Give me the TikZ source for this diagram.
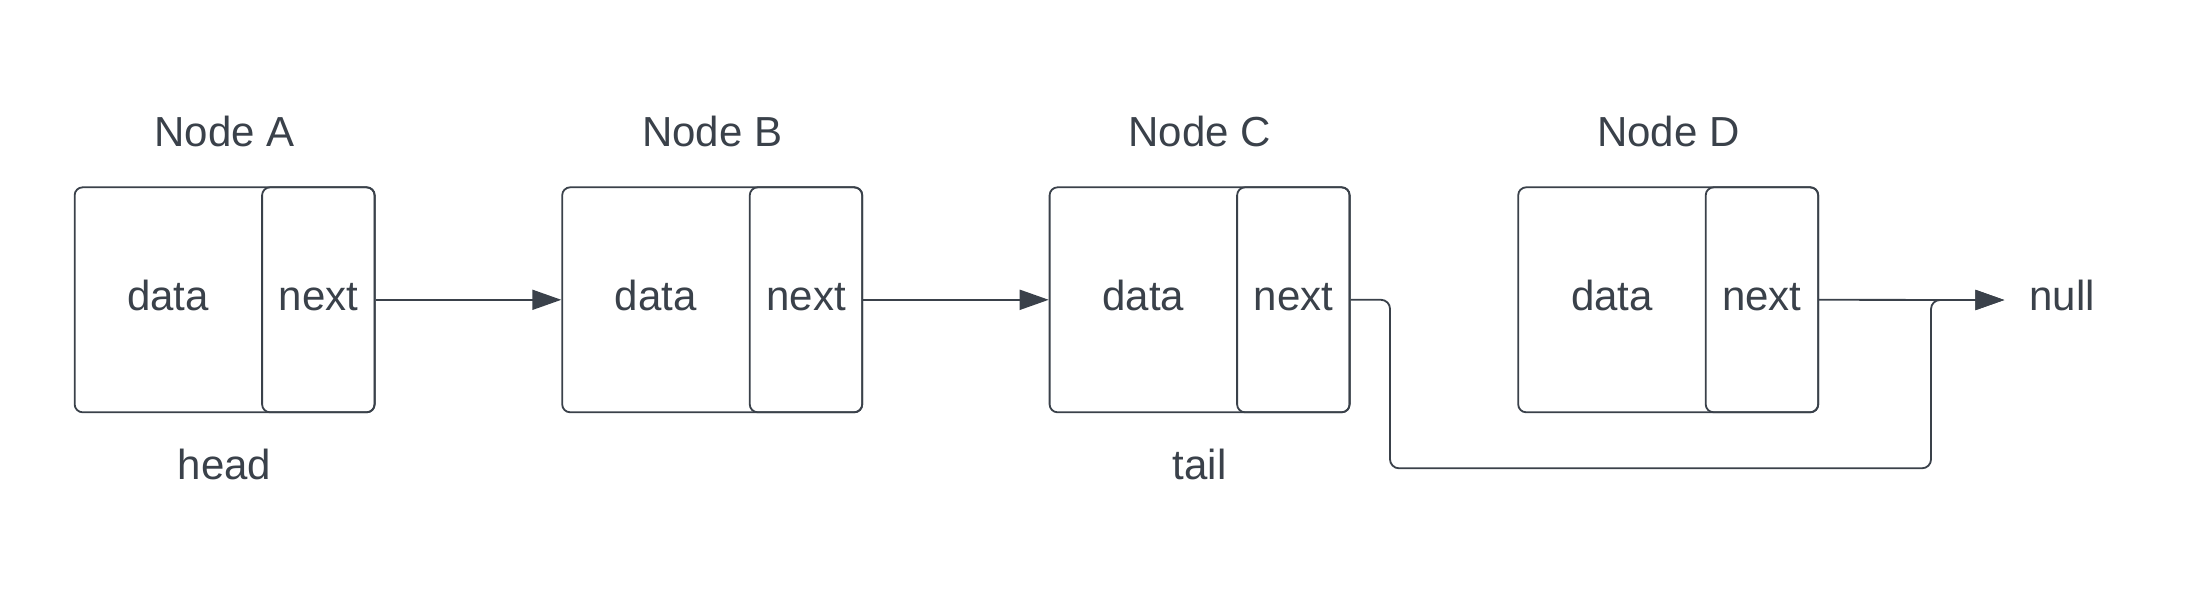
\documentclass[tikz,border=0pt]{standalone}
\usepackage{fontspec}
\setmainfont{Liberation Sans}
\usetikzlibrary{arrows.meta}
\definecolor{ink}{RGB}{58,65,74}
\begin{document}
\begin{tikzpicture}[x=1pt,y=-1pt,
  outerbox/.style={draw=ink,line width=1.8pt,rounded corners=8pt,minimum width=300pt,minimum height=225pt,inner sep=0pt},
  nextbox/.style={draw=ink,line width=1.8pt,rounded corners=8pt,minimum width=112.5pt,minimum height=225pt,inner sep=0pt},
  lbl/.style={text=ink,inner sep=0pt,anchor=base,font=\fontsize{42}{50}\selectfont},
  conn/.style={draw=ink,line width=1.8pt,-{Triangle[length=29pt,width=20pt]}},
]
\useasboundingbox[fill=white] (0,0) rectangle (2194,600);

% boxes
\node[outerbox] (Aout) at (224.65,299.8) {};
\node[nextbox]  (Anext) at (318.35,299.8) {};
\node[outerbox] (Bout) at (712.2,299.8) {};
\node[nextbox]  (Bnext) at (806.0,299.8) {};
\node[outerbox] (Cout) at (1199.6,299.8) {};
\node[nextbox]  (Cnext) at (1293.35,299.8) {};
\node[outerbox] (Dout) at (1668.2,299.8) {};
\node[nextbox]  (Dnext) at (1761.95,299.8) {};

% inner texts
\node[lbl] (Adata) at (168.0,310) {data};
\node[lbl] (Anxt)  at (318.35,310) {next};
\node[lbl] (Bdata) at (655.7,310) {data};
\node[lbl] (Bnxt)  at (806.0,310) {next};
\node[lbl] (Cdata) at (1143.3,310) {data};
\node[lbl] (Cnxt)  at (1293.35,310) {next};
\node[lbl] (Ddata) at (1612.0,310) {data};
\node[lbl] (Dnxt)  at (1761.95,310) {next};

% titles
\node[lbl] (Atitle) at (224.65,146.7) {Node A};
\node[lbl] (Btitle) at (712.2,146.7) {Node B};
\node[lbl] (Ctitle) at (1199.6,146.7) {Node C};
\node[lbl] (Dtitle) at (1668.2,146.7) {Node D};

\node[lbl] (head) at (224.65,479.5) {head};
\node[lbl] (tail) at (1199.6,479.5) {tail};
\node[lbl] (null) at (2062,310) {null};
\coordinate (nullpt) at (2004.3,300);

% connectors
\draw[conn] (Anext.east) -- (Bout.west);
\draw[conn] (Bnext.east) -- (Cout.west);
\draw[conn] (Dnext.east) -- (nullpt);
\draw[conn,rounded corners=9pt] (Cnext.east) -- (1390,299.8) -- (1390,468.3) -- (1931,468.3) -- (1931,300) -- (nullpt);
\end{tikzpicture}
\end{document}
